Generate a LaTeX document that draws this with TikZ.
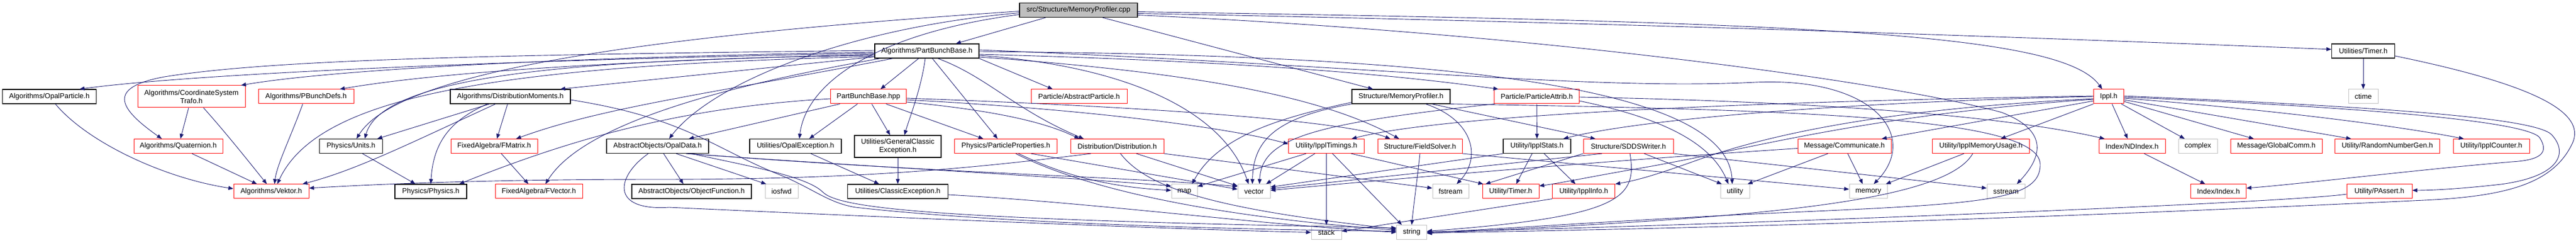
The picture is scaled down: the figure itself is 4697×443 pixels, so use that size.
\documentclass[tikz,border=0pt]{standalone}
\usepackage{fontspec}
\newfontfamily\dgf{Liberation Sans}
\usetikzlibrary{arrows.meta}
\definecolor{edgec}{HTML}{191970}
\definecolor{grayb}{HTML}{BFBFBF}
\definecolor{redb}{HTML}{FF0000}
\begin{document}
\begin{tikzpicture}[x=1pt,y=-1pt,
  dgbase/.style={fill=white, inner sep=0pt, minimum height=26pt, font=\dgf\fontsize{13}{15}\selectfont, align=center},
  nb/.style={dgbase, draw=black, line width=1.2pt},
  nr/.style={dgbase, draw=redb, line width=1pt},
  ng/.style={dgbase, draw=grayb, line width=1pt},
  edg/.style={draw=edgec, line width=0.9pt, -{Triangle[length=9pt,width=7pt]}}
]
\fill[white] (0,0) rectangle (4697,443);
\useasboundingbox (0,0) rectangle (4697,443);

% ---- nodes ----
\node[nb, fill=grayb, minimum width=215pt] (cpp) at (1966.5,18.5) {src/Structure/MemoryProfiler.cpp};
\node[nb, minimum width=190pt] (pbb) at (1690,93) {Algorithms/PartBunchBase.h};
\node[nb, minimum width=115pt] (utimer) at (4309,93) {Utilities/Timer.h};

\node[nb, minimum width=171pt] (opalpart) at (90,176) {Algorithms/OpalParticle.h};
\node[nr, minimum width=196pt, minimum height=40pt] (cst) at (349,176) {Algorithms/CoordinateSystem\\Trafo.h};
\node[nr, minimum width=174pt] (pbdefs) at (558,176) {Algorithms/PBunchDefs.h};
\node[nb, minimum width=219pt] (distmom) at (930.5,176) {Algorithms/DistributionMoments.h};
\node[nr, minimum width=138pt] (pbbhpp) at (1583.5,176) {PartBunchBase.hpp};
\node[nr, minimum width=175pt] (absp) at (1967.5,176) {Particle/AbstractParticle.h};
\node[nb, minimum width=179pt] (mph) at (2554.5,176) {Structure/MemoryProfiler.h};
\node[nr, minimum width=155pt] (pattr) at (2802,176) {Particle/ParticleAttrib.h};
\node[nr, minimum width=55pt] (ippl) at (3845,176) {Ippl.h};
\node[ng, minimum width=54pt] (ctime) at (4309,176) {ctime};

\node[nr, minimum width=162pt] (quat) at (325,266.5) {Algorithms/Quaternion.h};
\node[nb, minimum width=115pt] (units) at (640,266.5) {Physics/Units.h};
\node[nr, minimum width=158pt] (fmatrix) at (901,266.5) {FixedAlgebra/FMatrix.h};
\node[nb, minimum width=186pt] (opaldata) at (1199,266.5) {AbstractObjects/OpalData.h};
\node[nb, minimum width=167pt] (opalexc) at (1450.5,266.5) {Utilities/OpalException.h};
\node[nb, minimum width=158pt, minimum height=40pt] (gce) at (1637,267) {Utilities/GeneralClassic\\Exception.h};
\node[nr, minimum width=187pt] (pprop) at (1834,266.5) {Physics/ParticleProperties.h};
\node[nr, minimum width=170pt] (dist) at (2037,266.5) {Distribution/Distribution.h};
\node[nr, minimum width=138pt] (ippltim) at (2418.5,266.5) {Utility/IpplTimings.h};
\node[nr, minimum width=154pt] (fsolver) at (2589,266.5) {Structure/FieldSolver.h};
\node[nb, minimum width=123pt] (istats) at (2802.5,266.5) {Utility/IpplStats.h};
\node[nr, minimum width=164pt] (sdds) at (2969,266.5) {Structure/SDDSWriter.h};
\node[nr, minimum width=170pt] (comm) at (3363,266.5) {Message/Communicate.h};
\node[nr, minimum width=177pt] (memuse) at (3612,266.5) {Utility/IpplMemoryUsage.h};
\node[nr, minimum width=121pt] (ndindex) at (3887.5,266.5) {Index/NDIndex.h};
\node[ng, minimum width=71pt] (complex) at (4007.5,266.5) {complex};
\node[nr, minimum width=167pt] (gcomm) at (4150.5,266.5) {Message/GlobalComm.h};
\node[nr, minimum width=191pt] (rng) at (4353,266.5) {Utility/RandomNumberGen.h};
\node[nr, minimum width=139pt] (counter) at (4542.5,266.5) {Utility/IpplCounter.h};

\node[nr, minimum width=137pt] (vektor) at (494.5,349) {Algorithms/Vektor.h};
\node[nb, minimum width=131pt] (physics) at (785.5,349) {Physics/Physics.h};
\node[nr, minimum width=159pt] (fvector) at (982.5,349) {FixedAlgebra/FVector.h};
\node[nb, minimum width=218pt] (objfunc) at (1261,349) {AbstractObjects/ObjectFunction.h};
\node[ng, minimum width=60pt] (iosfwd) at (1425,349) {iosfwd};
\node[nb, minimum width=183pt] (ce) at (1637,349) {Utilities/ClassicException.h};
\node[ng, minimum width=47pt] (map) at (2159.5,349) {map};
\node[ng, minimum width=59pt] (vector) at (2286.5,349) {vector};
\node[ng, minimum width=66pt] (fstream) at (2645,349) {fstream};
\node[nr, minimum width=103pt] (ttimer) at (2754.5,349) {Utility/Timer.h};
\node[nr, minimum width=114pt] (info) at (2887.7,349) {Utility/IpplInfo.h};
\node[ng, minimum width=53pt] (utility) at (3163.5,349) {utility};
\node[ng, minimum width=69pt] (memory) at (3406.5,349) {memory};
\node[ng, minimum width=69pt] (sstream) at (3657.5,349) {sstream};
\node[nr, minimum width=101pt] (index) at (4045,349) {Index/Index.h};
\node[nr, minimum width=119pt] (passert) at (4338.5,349) {Utility/PAssert.h};

\node[ng, minimum width=55pt] (stack) at (2418.5,423.5) {stack};
\node[ng, minimum width=55pt] (string) at (2574,423.5) {string};

% ---- edges from the root ----
\draw[edg] ([xshift=-60pt]cpp.south) -- ([xshift=53pt]pbb.north);
\draw[edg] ([yshift=-2pt]cpp.west) .. controls (1100,70) and (720,140) .. ([xshift=10pt]units.north);
\draw[edg] ([yshift=-5pt]cpp.west) .. controls (1550,50) and (1300,150) .. ([xshift=21pt]opaldata.north);
\draw[edg] ([yshift=-8pt]cpp.west) .. controls (1600,60) and (1470,150) .. ([xshift=7pt]opalexc.north);
\draw[edg] ([xshift=44pt]cpp.south) -- ([xshift=-51pt]mph.north);
\draw[edg] ([yshift=-3pt]cpp.east) .. controls (3300,40) and (3760,60) .. ([xshift=-12pt]ippl.north);
\draw[edg] ([yshift=-6pt]cpp.east) .. controls (3000,42) and (3800,72) .. ([yshift=3pt]utimer.west);
\draw[edg] ([yshift=-9pt]cpp.east) .. controls (2800,60) and (3450,150) .. (3650,205) .. controls (3740,240) and (3720,290) .. ([xshift=20pt]sstream.north);

% ---- PartBunchBase.h ----
\draw[edg] ([yshift=-4pt]pbb.west) .. controls (900,110) and (350,135) .. ([xshift=55pt]opalpart.north);
\draw[edg] ([yshift=1pt]pbb.west) .. controls (900,100) and (500,108) .. (300,140) .. controls (190,160) and (220,200) .. ([xshift=-30pt]quat.north);
\draw[edg] ([yshift=-2pt]pbb.west) .. controls (1000,105) and (600,128) .. ([xshift=-8pt]cst.north east);
\draw[edg] ([yshift=-6pt]pbb.west) .. controls (1100,112) and (800,132) .. ([xshift=-26pt]pbdefs.north east);
\draw[edg] ([yshift=3pt]pbb.south west) -- ([xshift=-19pt]distmom.north east);
\draw[edg] ([yshift=-8pt]pbb.west) .. controls (1100,108) and (700,130) .. ([xshift=25pt]units.north);
\draw[edg] ([xshift=-62pt]pbb.south) .. controls (1300,170) and (1100,195) .. ([xshift=40pt]fmatrix.north);
\draw[edg] ([xshift=-85pt]pbb.south) .. controls (1300,160) and (1060,230) .. ([xshift=12pt]fvector.north);
\draw[edg] ([yshift=-10pt]pbb.west) .. controls (900,120) and (580,175) .. ([xshift=11pt]vektor.north);
\draw[edg] ([xshift=-15pt]pbb.south) -- ([xshift=22pt]pbbhpp.north);
\draw[edg] ([xshift=-3pt]pbb.south) .. controls (1680,160) and (1660,210) .. ([xshift=12pt]gce.north);
\draw[edg] ([xshift=10pt]pbb.south) -- ([xshift=-15pt]pprop.north);
\draw[edg] ([xshift=20pt]pbb.south) .. controls (1800,140) and (1850,200) .. ([xshift=-61pt]dist.north);
\draw[edg] (pbb.south east) -- ([xshift=-48pt]absp.north);
\draw[edg] ([yshift=-6pt]pbb.east) .. controls (2200,110) and (2500,130) .. ([xshift=-70pt]pattr.north);
\draw[edg] ([yshift=-8pt]pbb.east) .. controls (2050,120) and (2230,200) .. ([xshift=-10pt]vector.north);
\draw[edg] ([yshift=-11pt]pbb.east) .. controls (2150,130) and (2400,170) .. ([xshift=-38pt]fsolver.north);
\draw[edg] ([yshift=2pt]pbb.east) .. controls (2500,120) and (2900,165) .. (3200,150) .. controls (3420,140) and (3500,250) .. ([xshift=10pt]memory.north);
\draw[edg] ([yshift=-1pt]pbb.east) .. controls (2600,100) and (3150,150) .. ([xshift=-5pt]utility.north);

% ---- PartBunchBase.hpp ----
\draw[edg] ([xshift=-52pt]pbbhpp.south) -- ([xshift=57pt]opaldata.north);
\draw[edg] ([xshift=-20pt]pbbhpp.south) -- ([xshift=25pt]opalexc.north);
\draw[edg] ([xshift=6pt]pbbhpp.south) -- ([xshift=-14pt]gce.north);
\draw[edg] ([xshift=32pt]pbbhpp.south) -- ([xshift=-41pt]pprop.north);
\draw[edg] ([yshift=-4pt]pbbhpp.west) .. controls (1250,195) and (1050,250) .. ([xshift=52pt]physics.north);
\draw[edg] ([yshift=-10pt]pbbhpp.east) .. controls (1800,200) and (1900,220) .. ([xshift=-69pt]dist.north);
\draw[edg] ([yshift=-6pt]pbbhpp.east) .. controls (2000,200) and (2250,235) .. ([yshift=4pt]ippltim.west);
\draw[edg] ([yshift=-3pt]pbbhpp.east) .. controls (2100,195) and (2450,220) .. ([xshift=-54pt]fsolver.north);

% ---- Structure/MemoryProfiler.h ----
\draw[edg] ([yshift=3pt]mph.south west) .. controls (2330,215) and (2220,250) .. ([xshift=14pt]map.north);
\draw[edg] (mph.south west) .. controls (2320,215) and (2285,260) .. ([xshift=-3pt]vector.north);
\draw[edg] ([xshift=45pt]mph.south) .. controls (2690,220) and (2700,290) .. ([xshift=11pt]fstream.north);
\draw[edg] ([xshift=56pt]mph.south) -- ([xshift=-60pt]sdds.north);
\draw[edg] (mph.south east) .. controls (3300,200) and (3720,215) .. (3720,300) .. controls (3720,370) and (3600,372) .. (3200,390) .. controls (2900,405) and (2700,420) .. (string.east);

% ---- Particle/ParticleAttrib.h ----
\draw[edg] (pattr.south) -- (istats.north);
\draw[edg] ([xshift=-77pt]pattr.south) .. controls (2400,225) and (2300,250) .. ([xshift=10pt]vector.north);
\draw[edg] ([yshift=-8pt]pattr.east) .. controls (3030,215) and (3120,260) .. ([xshift=-12pt]utility.north);
\draw[edg] ([yshift=-1pt]pattr.east) .. controls (3300,185) and (3650,210) .. ([xshift=-50pt]ndindex.north);

% ---- Utility/IpplStats.h ----
\draw[edg] ([xshift=-9pt]istats.south) -- ([xshift=10pt]ttimer.north);
\draw[edg] ([xshift=13pt]istats.south) -- ([xshift=-15pt]info.north);
\draw[edg] (istats.south west) -- ([yshift=8pt]vector.east);

% ---- Utility/IpplTimings.h ----
\draw[edg] (ippltim.south) -- (stack.north);
\draw[edg] ([xshift=11pt]ippltim.south) -- ([xshift=-18pt]string.north);
\draw[edg] ([xshift=45pt]ippltim.south) -- ([xshift=-50pt]ttimer.north);
\draw[edg] ([xshift=-37pt]ippltim.south) -- ([yshift=9pt]map.east);
\draw[edg] ([xshift=-21pt]ippltim.south) -- ([xshift=22pt]vector.north);

% ---- Structure/FieldSolver.h ----
\draw[edg] (fsolver.south) .. controls (2585,320) and (2578,370) .. (string.north);
\draw[edg] (fsolver.south east) -- ([yshift=4pt]memory.west);

% ---- Distribution/Distribution.h ----
\draw[edg] ([xshift=35pt]dist.south) -- ([yshift=10pt]vector.west);
\draw[edg] (dist.south east) -- ([yshift=6pt]fstream.west);
\draw[edg] ([xshift=6pt]dist.south) .. controls (2090,340) and (2200,380) .. ([yshift=6pt]string.west);
\draw[edg] ([xshift=-48pt]dist.south) .. controls (1750,310) and (1550,327) .. (1200,327) .. controls (900,327) and (700,335) .. ([yshift=6pt]vektor.east);

% ---- Physics/ParticleProperties.h ----
\draw[edg] ([xshift=23pt]pprop.south) .. controls (1920,310) and (2000,340) .. ([yshift=2pt]map.west);
\draw[edg] ([xshift=18pt]pprop.south) .. controls (1950,330) and (2150,390) .. ([yshift=4pt]string.west);
\draw[edg] ([xshift=46pt]pprop.south) -- ([yshift=4pt]vector.west);

% ---- AbstractObjects/OpalData.h ----
\draw[edg] ([xshift=11pt]opaldata.south) -- ([xshift=-15pt]objfunc.north);
\draw[edg] ([xshift=34pt]opaldata.south) -- ([xshift=-28pt]iosfwd.north);
\draw[edg] ([xshift=52pt]opaldata.south) .. controls (1600,305) and (1900,320) .. ([yshift=10pt]map.west);
\draw[edg] ([xshift=57pt]opaldata.south) .. controls (1700,315) and (2050,322) .. ([yshift=9pt]vector.west);
\draw[edg] ([xshift=62pt]opaldata.south) .. controls (1350,300) and (1470,320) .. (1500,350) .. controls (1530,380) and (1700,400) .. ([yshift=8pt]string.west);
\draw[edg] ([xshift=-17pt]opaldata.south) .. controls (1125,320) and (1110,385) .. (1220,378) .. controls (1700,400) and (2200,420) .. (stack.west);

% ---- Algorithms/DistributionMoments.h ----
\draw[edg] ([xshift=-38pt]distmom.south) -- ([xshift=48pt]units.north);
\draw[edg] ([xshift=-42pt]distmom.south) .. controls (820,220) and (790,260) .. (physics.north);
\draw[edg] ([xshift=-5pt]distmom.south) -- ([xshift=5pt]fmatrix.north);
\draw[edg] ([xshift=-27pt]distmom.south) .. controls (750,260) and (650,310) .. ([xshift=-12pt]vektor.north east);
\draw[edg] ([yshift=-6pt]distmom.east) .. controls (1250,215) and (1300,270) .. (1420,318) .. controls (1480,342) and (1510,370) .. (1560,378) .. controls (1800,405) and (2200,418) .. ([yshift=2pt]string.west);

% ---- small ones on the left ----
\draw[edg] ([xshift=11pt]opalpart.south) .. controls (160,260) and (300,325) .. ([yshift=5pt]vektor.west);
\draw[edg] ([xshift=-5pt]cst.south) -- ([xshift=4pt]quat.north);
\draw[edg] ([xshift=22pt]cst.south) .. controls (410,240) and (450,290) .. ([xshift=-8pt]vektor.north);
\draw[edg] ([xshift=25pt]quat.south) -- ([xshift=-26pt]vektor.north);
\draw[edg] ([xshift=-6pt]pbdefs.south) .. controls (530,250) and (505,300) .. ([xshift=6pt]vektor.north);
\draw[edg] ([xshift=21pt]units.south) -- ([xshift=-28pt]physics.north);
\draw[edg] ([xshift=13pt]fmatrix.south) -- ([xshift=-19pt]fvector.north);
\draw[edg] ([xshift=28pt]opalexc.south) -- ([xshift=-34pt]ce.north);
\draw[edg] (gce.south) -- (ce.north);
\draw[edg] ([yshift=-6pt]ce.east) .. controls (2000,370) and (2300,410) .. (string.west);

% ---- Ippl.h ----
\draw[edg] (ippl.south west) -- ([xshift=36pt]memuse.north);
\draw[edg] ([xshift=6pt]ippl.south) -- ([xshift=-8pt]ndindex.north);
\draw[edg] ([xshift=23pt]ippl.south) -- ([xshift=-24pt]complex.north);
\draw[edg] ([yshift=-9pt]ippl.east) -- ([xshift=-41pt]gcomm.north);
\draw[edg] ([yshift=-6pt]ippl.east) -- ([xshift=-66pt]rng.north);
\draw[edg] ([yshift=-3pt]ippl.east) .. controls (4200,205) and (4400,235) .. ([xshift=-50pt]counter.north);
\draw[edg] ([yshift=-1pt]ippl.east) .. controls (4300,195) and (4600,220) .. (4630,250) .. controls (4650,280) and (4630,292) .. (4580,295) .. controls (4400,310) and (4200,335) .. ([yshift=6pt]index.east);
\draw[edg] ([yshift=1pt]ippl.east) .. controls (4350,195) and (4620,215) .. (4652,245) .. controls (4685,280) and (4665,322) .. (4560,336) .. controls (4480,345) and (4430,347) .. ([yshift=2pt]passert.east);
\draw[edg] ([yshift=0pt]ippl.west) .. controls (3400,185) and (3000,215) .. ([xshift=48pt]istats.north);
\draw[edg] ([yshift=1pt]ippl.west) .. controls (3300,183) and (2650,205) .. ([xshift=46pt]ippltim.north);
\draw[edg] ([yshift=-4pt]ippl.west) .. controls (3400,200) and (3200,255) .. (3100,290) .. controls (3030,315) and (2990,328) .. (info.north east);
\draw[edg] ([yshift=-5pt]ippl.west) .. controls (3400,210) and (3200,270) .. (3000,305) .. controls (2900,322) and (2850,333) .. ([yshift=10pt]ttimer.east);
\draw[edg] ([yshift=-8pt]ippl.west) -- ([xshift=68pt]comm.north);

% ---- right side ----
\draw[edg] (utimer.south) -- (ctime.north);
\draw[edg] ([yshift=-9pt]utimer.east) .. controls (4600,150) and (4720,200) .. (4690,262) .. controls (4655,335) and (4570,358) .. (4420,365) .. controls (4100,380) and (3400,412) .. ([yshift=-1pt]string.east);
\draw[edg] ([xshift=22pt]ndindex.south) -- ([xshift=-24pt]index.north);
\draw[edg] ([yshift=-5pt]passert.west) .. controls (4150,372) and (3000,415) .. ([yshift=1pt]string.east);
\draw[edg] ([xshift=-15pt]memuse.south) .. controls (3540,380) and (3100,400) .. ([yshift=-2pt]string.east);
\draw[edg] ([xshift=-31pt]memuse.south) -- ([xshift=-3pt]memory.north east);
\draw[edg] ([xshift=-30pt]comm.south) -- ([xshift=-4pt]utility.north east);
\draw[edg] ([xshift=6pt]comm.south) -- ([xshift=-10pt]memory.north);
\draw[edg] ([yshift=-4pt]comm.west) .. controls (2900,295) and (2500,330) .. ([yshift=2pt]vector.east);

% ---- Structure/SDDSWriter.h ----
\draw[edg] ([xshift=29pt]sdds.south) -- ([xshift=-24pt]utility.north);
\draw[edg] (sdds.south east) -- ([yshift=6pt]sstream.west);
\draw[edg] ([xshift=3pt]sdds.south) .. controls (2985,360) and (2960,395) .. ([yshift=2pt]string.east);
\draw[edg] ([xshift=-48pt]sdds.south) -- ([yshift=5pt]vector.east);
\draw[edg] (sdds.south west) -- ([xshift=-46pt]ttimer.north);

% ---- Utility/IpplInfo.h ----
\draw[edg] (info.south west) -- ([yshift=2pt]stack.east);
\end{tikzpicture}
\end{document}
